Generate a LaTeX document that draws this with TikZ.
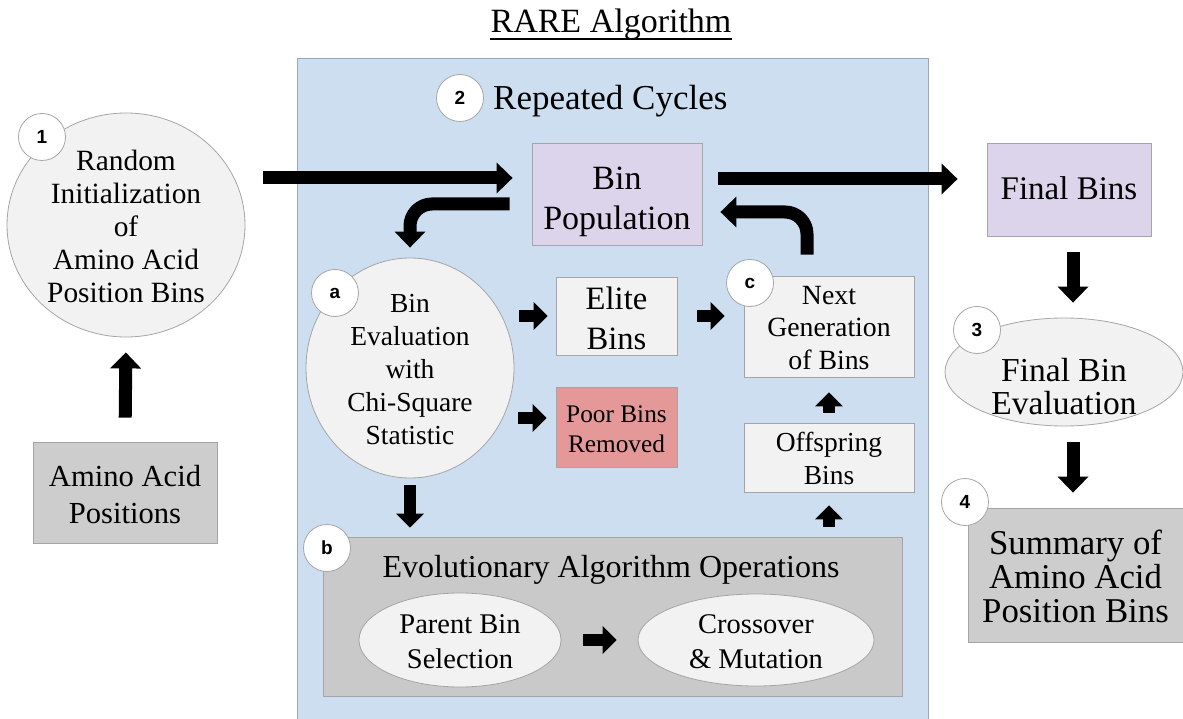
\documentclass[tikz,border=0pt]{standalone}
\usepackage{fontspec}
\setmainfont{Liberation Serif}
\newfontfamily\badgefont{Liberation Sans}
\usetikzlibrary{arrows.meta,shapes.geometric,calc}
\definecolor{panelblue}{RGB}{205,222,240}
\definecolor{panelline}{RGB}{150,168,190}
\definecolor{lightfill}{RGB}{242,242,242}
\definecolor{lav}{RGB}{220,212,234}
\definecolor{poorred}{RGB}{229,152,152}
\definecolor{darkgray}{RGB}{205,205,205}
\definecolor{opgray}{RGB}{201,201,201}
\definecolor{edge}{RGB}{165,165,165}
\newcommand\fsz[2]{\fontsize{#1pt}{#2pt}\selectfont}
\newcommand\ml[2]{\smash{\raisebox{\dimexpr #1pt-0.35em\relax}{\begin{tabular}{@{}c@{}}#2\end{tabular}}}}
\begin{document}
\begin{tikzpicture}[x=1pt,y=-1pt,
  box/.style={rectangle, draw=edge, line width=0.8pt, inner sep=0pt},
  oval/.style={ellipse, draw=edge, line width=0.8pt, inner sep=0pt, fill=lightfill},
  badge/.style={circle, draw=edge, line width=0.8pt, fill=white, minimum size=47pt, inner sep=0pt, font=\badgefont\bfseries\fsz{19}{19}},
  plain/.style={inner sep=0pt},
  fat/.style={line width=13pt, -{Triangle[length=16pt,width=30pt]}},
  small/.style={line width=12pt, -{Triangle[length=14pt,width=27pt]}},
]
\useasboundingbox (0,0) rectangle (1183,719);

% title
\node[plain, anchor=base, font=\fsz{34}{38}] (title) at (611,33) {RARE Algorithm};
\draw[line width=1.6pt] ([yshift=-6pt]title.base west) -- ([yshift=-6pt]title.base east);

% panel
\node[rectangle, draw=panelline, line width=0.8pt, fill=panelblue, minimum width=631pt, minimum height=672pt, inner sep=0pt] (panel) at (612.5,394) {};
\node[plain, anchor=base west, font=\fsz{35}{40}] (rcycles) at (493,110) {Repeated Cycles};

% left side
\node[oval, minimum width=238pt, minimum height=224pt, font=\fsz{29.4}{33}] (circ1) at (126,225) {\ml{-1}{Random\\Initialization\\of\\Amino Acid\\Position Bins}};
\node[box, fill=darkgray, minimum width=184pt, minimum height=101pt, font=\fsz{30.6}{37}] (amino) at (125,492.5) {\ml{-1}{Amino Acid\\Positions}};

% panel content
\node[box, fill=lav, minimum width=170pt, minimum height=102pt, font=\fsz{34}{40}] (binpop) at (617,194) {\ml{-2}{Bin\\Population}};
\node[oval, minimum width=208pt, minimum height=220pt, font=\fsz{27.5}{33}] (ellA) at (410,368) {\ml{0}{Bin\\Evaluation\\with\\Chi-Square\\Statistic}};
\node[box, fill=lightfill, minimum width=121pt, minimum height=78pt, font=\fsz{32.6}{40}] (elite) at (616.5,316) {\ml{0}{Elite\\Bins}};
\node[box, fill=poorred, minimum width=121pt, minimum height=80pt, font=\fsz{25.3}{30}] (poor) at (616.5,427) {\ml{-1.5}{Poor Bins\\Removed}};
\node[box, fill=lightfill, minimum width=170pt, minimum height=101pt, font=\fsz{27.8}{32.5}] (next) at (829,326.5) {\ml{0}{Next\\Generation\\of Bins}};
\node[box, fill=lightfill, minimum width=170pt, minimum height=69pt, font=\fsz{27.5}{33}] (offspring) at (829,457.5) {\ml{0}{Offspring\\Bins}};
\node[box, fill=opgray, minimum width=579pt, minimum height=159pt] (bbox) at (612.5,616.5) {};
\node[plain, anchor=base, font=\fsz{32}{36}] (evotitle) at (611,577) {Evolutionary Algorithm Operations};
\node[oval, minimum width=202pt, minimum height=94pt, font=\fsz{28.5}{35}] (parent) at (460,640) {\ml{0}{Parent Bin\\Selection}};
\node[oval, minimum width=236pt, minimum height=92pt, font=\fsz{28.5}{35}] (cross) at (756,640) {\ml{0}{Crossover\\\& Mutation}};

% right side
\node[box, fill=lav, minimum width=164pt, minimum height=93pt, font=\fsz{33}{38}] (finalbins) at (1069,189.5) {\ml{2.5}{Final Bins}};
\node[oval, minimum width=238pt, minimum height=108pt, font=\fsz{33.5}{33}] (ell3) at (1064,372) {\ml{-13.5}{Final Bin\\Evaluation}};
\node[box, fill=darkgray, minimum width=215pt, minimum height=134pt, font=\fsz{34.8}{33.5}] (summary) at (1075.5,575) {\ml{0}{Summary of\\Amino Acid\\Position Bins}\hspace{16pt}};

% badges
\node[badge] (b1) at (42,137) {1};
\node[badge] (b2) at (460,98) {2};
\node[badge] (ba) at (335,293) {a};
\node[badge] (bb) at (327,548) {b};
\node[badge] (bc) at (750,283) {c};
\node[badge] (b3) at (977,330) {3};
\node[badge] (b4) at (965,502) {4};

% connectors
\coordinate (popin) at ([yshift=16pt]binpop.west);
\draw[fat, shorten <=18pt, shorten >=19pt] (popin -| circ1.east) -- (popin);
\coordinate (popr) at ([yshift=15pt]binpop.east);
\draw[fat, shorten <=16pt, shorten >=29pt] (popr) -- (popr -| finalbins.west);
\coordinate (popout) at ([yshift=-10pt]binpop.west);
\draw[fat, rounded corners=22pt, shorten <=22pt, shorten >=10pt] (popout) -| (ellA.north);
\coordinate (retin) at ([yshift=-18pt]binpop.east);
\coordinate (retout) at ([xshift=-22pt]next.north);
\draw[fat, rounded corners=22pt, shorten <=21pt, shorten >=18pt] (retout) |- (retin);

\draw[small, shorten <=5pt, shorten >=8pt] (elite.west -| ellA.east) -- (elite.west);
\coordinate (poorin) at ([yshift=9pt]poor.west);
\draw[small, shorten <=4pt, shorten >=9pt] (poorin -| ellA.east) -- (poorin);
\draw[small, shorten <=20pt, shorten >=19pt] (elite.east) -- (elite.east -| next.west);
\draw[small, shorten <=7pt, shorten >=9pt] (ellA.south) -- (ellA.south |- bbox.north);
\draw[small, shorten <=10pt, shorten >=13pt] (offspring.south |- bbox.north) -- (offspring.south);
\draw[small, shorten <=10pt, shorten >=15pt] (offspring.north) -- (next.south);
\draw[small, shorten <=22pt, shorten >=21pt] (parent.east) -- (cross.west);

\draw[fat, shorten <=24pt, shorten >=15pt] (amino.north) -- (circ1.south);
\coordinate (fbout) at ([xshift=4pt]finalbins.south);
\draw[fat, shorten <=16pt, shorten >=15pt] (fbout) -- (fbout |- ell3.north);
\draw[fat, shorten <=16pt, shorten >=15pt] (fbout |- ell3.south) -- (fbout |- summary.north);
\end{tikzpicture}
\end{document}
